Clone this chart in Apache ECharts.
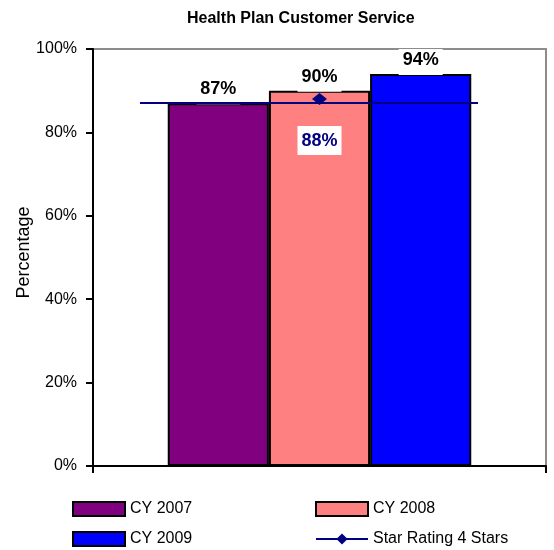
<!DOCTYPE html>
<html>
<head>
<meta charset="utf-8">
<script src="https://cdn.jsdelivr.net/npm/echarts@6/dist/echarts.min.js"></script>
<style>
  html, body { margin: 0; padding: 0; background: #fff; }
  #chart { width: 554px; height: 550px; }
</style>
</head>
<body>
<div id="chart"></div>
<script>
// Customer service scores by calendar year (percent)
const categories = [''];
const cy2007 = [87];
const cy2008 = [90];
const cy2009 = [94];
// 4-star rating point and its reference line level (percent)
const starRating = [88];
const starLineLevel = 87;
const yTicks = [0, 20, 40, 60, 80, 100];

const FONT = 'Arial, "Liberation Sans", sans-serif';

const barLabel = {
  show: true,
  position: 'top',
  distance: -1,
  formatter: '{c}%',
  color: '#000',
  fontFamily: FONT,
  fontWeight: 'bold',
  fontSize: 18,
  backgroundColor: '#fff',
  padding: [2, 4, 6, 4]
};

function barSeries(name, values, color) {
  return {
    name: name,
    type: 'bar',
    data: values,
    barGap: '0%',
    barCategoryGap: '33%',
    z: 2,
    itemStyle: { color: color, borderColor: '#000', borderWidth: 2 },
    label: barLabel
  };
}

const legendBase = {
  orient: 'vertical',
  top: 501,
  padding: 0,
  itemWidth: 52,
  itemHeight: 14,
  itemGap: 14,
  textStyle: { fontFamily: FONT, fontSize: 16, color: '#000' }
};

const chart = echarts.init(document.getElementById('chart'), null, { renderer: 'canvas' });

chart.setOption({
  animation: false,
  backgroundColor: '#fff',
  title: {
    text: 'Health Plan Customer Service',
    left: 182,
    top: 6,
    textStyle: { fontFamily: FONT, fontWeight: 'bold', fontSize: 16, color: '#000' }
  },
  legend: [
    Object.assign({}, legendBase, {
      left: 72,
      data: [{ name: 'CY 2007', icon: 'rect' }, { name: 'CY 2009', icon: 'rect' }]
    }),
    Object.assign({}, legendBase, {
      left: 315,
      data: [{ name: 'CY 2008', icon: 'rect' }, { name: 'Star Rating 4 Stars' }]
    })
  ],
  grid: {
    left: 93,
    right: 8,
    top: 49,
    bottom: 84,
    show: true,
    borderColor: '#8c8c8c',
    borderWidth: 2,
    containLabel: false
  },
  xAxis: {
    type: 'category',
    data: categories,
    boundaryGap: true,
    axisLine: { lineStyle: { color: '#000', width: 2 } },
    axisTick: { show: true, length: 7, lineStyle: { color: '#000', width: 2 } },
    axisLabel: { show: false },
    splitLine: { show: false }
  },
  yAxis: {
    type: 'value',
    min: yTicks[0],
    max: yTicks[yTicks.length - 1],
    interval: yTicks[1] - yTicks[0],
    name: 'Percentage',
    nameLocation: 'middle',
    nameGap: 60,
    nameRotate: 90,
    nameMoveOverlap: false,
    nameTextStyle: { fontFamily: FONT, fontSize: 18, color: '#000', padding: [0, 0, 0, 10] },
    axisLine: { show: true, lineStyle: { color: '#000', width: 2 } },
    axisTick: { show: true, length: 7, lineStyle: { color: '#000', width: 2 } },
    axisLabel: { formatter: '{value}%', margin: 16, fontFamily: FONT, fontSize: 16, color: '#000' },
    splitLine: { show: false }
  },
  series: [
    barSeries('CY 2007', cy2007, '#800080'),
    barSeries('CY 2008', cy2008, '#FF8080'),
    barSeries('CY 2009', cy2009, '#0000FF'),
    {
      name: 'Star Rating 4 Stars',
      type: 'line',
      data: starRating,
      z: 5,
      symbol: 'diamond',
      symbolSize: [15, 12],
      itemStyle: { color: '#000080' },
      lineStyle: { color: '#000080', width: 2 },
      label: {
        show: true,
        position: 'bottom',
        distance: 21,
        formatter: '{c}%',
        color: '#000080',
        fontFamily: FONT,
        fontWeight: 'bold',
        fontSize: 18,
        backgroundColor: '#fff',
        padding: [6, 4, 5, 4]
      },
      markLine: {
        silent: true,
        symbol: 'none',
        z: 5,
        label: { show: false },
        lineStyle: { color: '#000080', width: 2, type: 'solid' },
        data: [[{ x: 140, yAxis: starLineLevel }, { x: 478, yAxis: starLineLevel }]]
      }
    }
  ]
});
</script>
</body>
</html>
